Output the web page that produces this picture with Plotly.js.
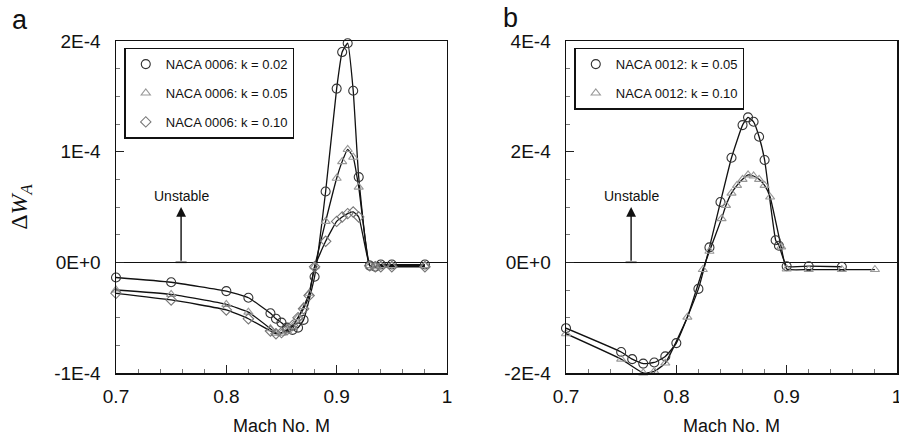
<!DOCTYPE html>
<html><head><meta charset="utf-8">
<script src="https://cdn.plot.ly/plotly-3.0.1.min.js"></script>
<style>html,body{margin:0;padding:0;background:#fff}</style>
</head><body><div id="chart" style="width:899px;height:442px"></div>
<script>
// ---------- Panel a : NACA 0006 ----------
const machA_k002 = [0.70, 0.75, 0.80, 0.82, 0.84, 0.845, 0.85, 0.855, 0.86, 0.865, 0.87, 0.88, 0.89, 0.90, 0.905, 0.91, 0.915, 0.92, 0.93, 0.935, 0.94, 0.95, 0.98];
const dwA_k002   = [-0.137e-4, -0.18e-4, -0.26e-4, -0.32e-4, -0.46e-4, -0.51e-4, -0.545e-4, -0.59e-4, -0.61e-4, -0.59e-4, -0.52e-4, -0.13e-4, 0.64e-4, 1.57e-4, 1.90e-4, 1.98e-4, 1.55e-4, 0.77e-4, -0.03e-4, -0.04e-4, -0.02e-4, -0.02e-4, -0.02e-4];
const machA_k005 = [0.70, 0.75, 0.80, 0.82, 0.84, 0.845, 0.85, 0.855, 0.86, 0.865, 0.87, 0.875, 0.88, 0.89, 0.90, 0.905, 0.91, 0.915, 0.92, 0.93, 0.935, 0.94, 0.95, 0.98];
const dwA_k005   = [-0.25e-4, -0.29e-4, -0.38e-4, -0.45e-4, -0.60e-4, -0.64e-4, -0.64e-4, -0.62e-4, -0.58e-4, -0.50e-4, -0.40e-4, -0.28e-4, -0.04e-4, 0.37e-4, 0.76e-4, 0.91e-4, 1.02e-4, 0.95e-4, 0.68e-4, -0.03e-4, -0.04e-4, -0.03e-4, -0.03e-4, -0.03e-4];
const machA_k010 = [0.70, 0.75, 0.80, 0.82, 0.84, 0.845, 0.85, 0.855, 0.86, 0.865, 0.87, 0.875, 0.88, 0.89, 0.90, 0.905, 0.91, 0.915, 0.92, 0.93, 0.935, 0.94, 0.95, 0.98];
const dwA_k010   = [-0.28e-4, -0.34e-4, -0.43e-4, -0.51e-4, -0.62e-4, -0.645e-4, -0.635e-4, -0.61e-4, -0.57e-4, -0.50e-4, -0.42e-4, -0.30e-4, -0.04e-4, 0.19e-4, 0.37e-4, 0.41e-4, 0.44e-4, 0.455e-4, 0.41e-4, -0.03e-4, -0.04e-4, -0.04e-4, -0.04e-4, -0.04e-4];

// ---------- Panel b : NACA 0012 ----------
const machB_k005 = [0.70, 0.75, 0.76, 0.77, 0.78, 0.79, 0.80, 0.82, 0.83, 0.84, 0.85, 0.86, 0.865, 0.87, 0.875, 0.88, 0.89, 0.893, 0.90, 0.92, 0.95];
const dwB_k005   = [-1.19e-4, -1.62e-4, -1.75e-4, -1.83e-4, -1.81e-4, -1.70e-4, -1.46e-4, -0.48e-4, 0.27e-4, 1.09e-4, 1.89e-4, 2.48e-4, 2.62e-4, 2.54e-4, 2.27e-4, 1.85e-4, 0.40e-4, 0.30e-4, -0.07e-4, -0.07e-4, -0.08e-4];
const machB_k010 = [0.70, 0.75, 0.77, 0.78, 0.79, 0.81, 0.824, 0.83, 0.841, 0.845, 0.85, 0.855, 0.86, 0.865, 0.87, 0.875, 0.88, 0.885, 0.895, 0.90, 0.92, 0.95, 0.98];
const dwB_k010   = [-1.29e-4, -1.75e-4, -2.00e-4, -1.97e-4, -1.82e-4, -0.99e-4, -0.13e-4, 0.20e-4, 0.79e-4, 1.03e-4, 1.25e-4, 1.39e-4, 1.50e-4, 1.58e-4, 1.56e-4, 1.50e-4, 1.39e-4, 1.18e-4, 0.28e-4, -0.12e-4, -0.13e-4, -0.13e-4, -0.13e-4];

// ---------- labels / ticks ----------
const namesA = ['NACA 0006: k = 0.02', 'NACA 0006: k = 0.05', 'NACA 0006: k = 0.10'];
const namesB = ['NACA 0012: k = 0.05', 'NACA 0012: k = 0.10'];
const xTickVals = [0.7, 0.8, 0.9, 1.0];
const xTickText = ['0.7', '0.8', '0.9', '1'];
const yTickValsA = [-1e-4, 0, 1e-4, 2e-4];
const yTickTextA = ['-1E-4', '0E+0', '1E-4', '2E-4'];
const yTickValsB = [-2e-4, 0, 2e-4, 4e-4];
const yTickTextB = ['-2E-4', '0E+0', '2E-4', '4E-4'];
const arrowMach = 0.759;
const arrowTipA = 0.5e-4, labelA = 0.6e-4;
const arrowTipB = 1.0e-4, labelB = 1.2e-4;

const LINE = {color: '#111', width: 1.3, shape: 'spline', smoothing: 0.4};
const FONT = 'Arial, "Liberation Sans", sans-serif';

function lineTrace(x, y, xa, ya) {
  return {x, y, xaxis: xa, yaxis: ya, mode: 'lines', line: LINE, showlegend: false, hoverinfo: 'skip'};
}
function markTrace(x, y, xa, ya, name, symbol, color, size, legend) {
  return {x, y, xaxis: xa, yaxis: ya, mode: 'markers', name, legend, legendgroup: name,
    cliponaxis: false,
    marker: {symbol, size, color, line: {color, width: 1.1}}};
}

const traces = [
  lineTrace(machA_k010, dwA_k010, 'x', 'y'),
  lineTrace(machA_k005, dwA_k005, 'x', 'y'),
  lineTrace(machA_k002, dwA_k002, 'x', 'y'),
  markTrace(machA_k002, dwA_k002, 'x', 'y', namesA[0], 'circle-open', '#333', 9, 'legend'),
  markTrace(machA_k005, dwA_k005, 'x', 'y', namesA[1], 'triangle-up-open', '#999', 8, 'legend'),
  markTrace(machA_k010, dwA_k010, 'x', 'y', namesA[2], 'diamond-open', '#777', 8, 'legend'),
  lineTrace(machB_k010, dwB_k010, 'x2', 'y2'),
  lineTrace(machB_k005, dwB_k005, 'x2', 'y2'),
  markTrace(machB_k005, dwB_k005, 'x2', 'y2', namesB[0], 'circle-open', '#333', 9, 'legend2'),
  markTrace(machB_k010, dwB_k010, 'x2', 'y2', namesB[1], 'triangle-up-open', '#999', 8, 'legend2'),
];

function xAxis(domain, anchor) {
  return {domain, anchor, range: [0.7, 1.0], tickmode: 'array', tickvals: xTickVals, ticktext: xTickText,
    ticks: 'inside', ticklen: 8, tickcolor: '#222', tickwidth: 1, ticklabelstandoff: 6, ticklabeloverflow: 'allow',
    minor: {tickmode: 'linear', tick0: 0.7, dtick: 0.02, ticks: 'inside', ticklen: 4, tickcolor: '#777'},
    showline: true, linecolor: '#111', linewidth: 1.5, mirror: true, showgrid: false, zeroline: false,
    tickfont: {family: FONT, size: 19, color: '#111'},
    title: {text: 'Mach No. M', font: {family: FONT, size: 18, color: '#111'}, standoff: 13}};
}
function yAxis(range, vals, text, anchor, minorStep, showTitle) {
  const ax = {anchor, range, tickmode: 'array', tickvals: vals, ticktext: text,
    ticks: 'inside', ticklen: 8, tickcolor: '#222', tickwidth: 1, ticklabelstandoff: 10,
    minor: {tickmode: 'linear', tick0: 0, dtick: minorStep, ticks: 'inside', ticklen: 4, tickcolor: '#777'},
    showline: true, linecolor: '#111', linewidth: 1.5, mirror: true, showgrid: false,
    zeroline: true, zerolinecolor: '#111', zerolinewidth: 1.3,
    tickfont: {family: FONT, size: 19, color: '#111'}};
  if (showTitle) ax.title = {text: 'Δ<i>W</i><sub><i>A</i></sub>', font: {family: '"Liberation Serif", "DejaVu Serif", serif', size: 24, color: '#111'}, standoff: 20};
  return ax;
}

const annFont = {family: FONT, size: 14, color: '#111'};
const layout = {
  width: 899, height: 442,
  margin: {l: 116, r: 2, t: 41, b: 69},
  paper_bgcolor: '#fff', plot_bgcolor: '#fff',
  xaxis: xAxis([0, 0.4238], 'y'),
  yaxis: yAxis([-1e-4, 2e-4], yTickValsA, yTickTextA, 'x', 0.25e-4, true),
  xaxis2: xAxis([0.5762, 1], 'y2'),
  yaxis2: yAxis([-2e-4, 4e-4], yTickValsB, yTickTextB, 'x2', 0.5e-4, false),
  legend: {x: 0.0106, y: 0.98, xanchor: 'left', yanchor: 'top', bgcolor: '#fff', bordercolor: '#111', borderwidth: 1.5,
    font: {family: FONT, size: 13, color: '#111'}, traceorder: 'grouped', tracegroupgap: 9},
  legend2: {x: 0.5868, y: 0.98, xanchor: 'left', yanchor: 'top', bgcolor: '#fff', bordercolor: '#111', borderwidth: 1.5,
    font: {family: FONT, size: 13, color: '#111'}, traceorder: 'grouped', tracegroupgap: 9},
  annotations: [
    {xref: 'x', yref: 'y', x: arrowMach, y: arrowTipA, ax: arrowMach, ay: 0, axref: 'x', ayref: 'y', text: '',
      showarrow: true, arrowhead: 2, arrowsize: 1.4, arrowwidth: 1.4, arrowcolor: '#111'},
    {xref: 'x', yref: 'y', x: arrowMach, y: labelA, text: 'Unstable', showarrow: false, font: annFont},
    {xref: 'x2', yref: 'y2', x: arrowMach, y: arrowTipB, ax: arrowMach, ay: 0, axref: 'x2', ayref: 'y2', text: '',
      showarrow: true, arrowhead: 2, arrowsize: 1.4, arrowwidth: 1.4, arrowcolor: '#111'},
    {xref: 'x2', yref: 'y2', x: arrowMach, y: labelB, text: 'Unstable', showarrow: false, font: annFont},
    {xref: 'paper', yref: 'paper', x: -0.136, y: 1.062, xanchor: 'left', yanchor: 'middle', text: 'a', showarrow: false,
      font: {family: FONT, size: 27, color: '#111'}},
    {xref: 'paper', yref: 'paper', x: 0.493, y: 1.068, xanchor: 'left', yanchor: 'middle', text: 'b', showarrow: false,
      font: {family: FONT, size: 27, color: '#111'}}
  ],
  shapes: [
    {type: 'line', xref: 'x', yref: 'y', x0: arrowMach - 0.005, x1: arrowMach + 0.005, y0: 0, y1: 0, line: {color: '#111', width: 1.5}},
    {type: 'line', xref: 'x2', yref: 'y2', x0: arrowMach - 0.005, x1: arrowMach + 0.005, y0: 0, y1: 0, line: {color: '#111', width: 1.5}}
  ]
};

Plotly.newPlot('chart', traces, layout, {displayModeBar: false, staticPlot: true});
</script></body></html>
